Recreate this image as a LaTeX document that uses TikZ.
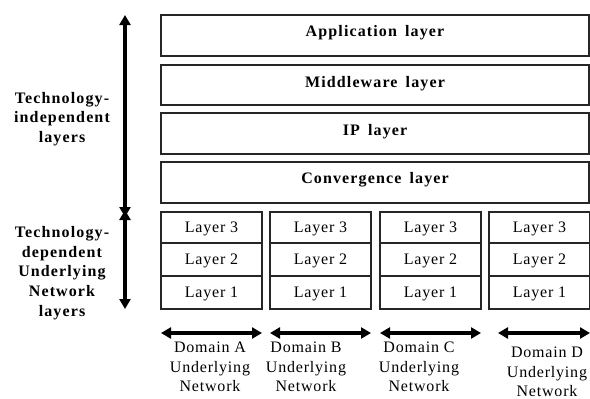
\documentclass[tikz,border=0pt]{standalone}
\usepackage{fontspec}
\setmainfont{Liberation Serif}
\newfontfamily\regf{Liberation Serif}[LetterSpace=5]
\newfontfamily\boldf{Liberation Serif}[LetterSpace=7,WordSpace=1.6]
\usetikzlibrary{arrows.meta,calc}
\begin{document}
\begin{tikzpicture}[x=1pt,y=-1pt,
  box/.style={draw=black!85,line width=1.3pt,anchor=north west,inner sep=0pt,outer sep=0pt},
  big/.style={box,minimum width=428pt},
  cell/.style={box,minimum width=101pt},
  btxt/.style={font=\boldf\bfseries\fontsize{16}{19.5}\selectfont,anchor=base,inner sep=0pt},
  rtxt/.style={font=\regf\fontsize{16}{19.5}\selectfont,anchor=base,inner sep=0pt},
  side/.style={font=\boldf\bfseries\fontsize{16}{19.6}\selectfont,align=center,inner sep=0pt},
  dom/.style={font=\regf\fontsize{16}{19.5}\selectfont,align=center,inner sep=0pt},
  arr/.style={line width=3.5pt,{Triangle[length=10pt,width=11pt]}-{Triangle[length=10pt,width=11pt]}}
]
\useasboundingbox (0,0) rectangle (590,399);
% big layers
\node[big,minimum height=41pt] (app) at (161,15) {};
\node[big,minimum height=40pt] (mid) at (161,65) {};
\node[big,minimum height=41pt] (ip) at (161,113) {};
\node[big,minimum height=41pt] (conv) at (161,162) {};
\node[btxt] (tapp) at ($(app.north)+(0,21.5)$) {Application layer};
\node[btxt] (tmid) at ($(mid.north)+(0,22)$) {Middleware layer};
\node[btxt] (tip) at ($(ip.north)+(0,22)$) {IP layer};
\node[btxt] (tconv) at ($(conv.north)+(0,21.5)$) {Convergence layer};
% domain cells
\foreach \d/\x in {A/161,B/270,C/380,D/489}{
  \node[cell,minimum height=31pt] (\d3) at (\x,212) {};
  \node[cell,minimum height=33pt] (\d2) at (\x,243) {};
  \node[cell,minimum height=33pt] (\d1) at (\x,276) {};
  \node[rtxt] (t\d3) at ($(\d3.north)+(0,20.5)$) {Layer 3};
  \node[rtxt] (t\d2) at ($(\d2.north)+(0,21.5)$) {Layer 2};
  \node[rtxt] (t\d1) at ($(\d1.north)+(0,21.5)$) {Layer 1};
}
% vertical arrows
\coordinate (vtop) at (125,15);
\coordinate (vmidA) at (125,217);
\coordinate (vmidB) at (125,210);
\coordinate (vbot) at (125,309);
\draw[arr] (vtop) -- (vmidA);
\draw[arr] (vmidB) -- (vbot);
\node[side] (indep) at (62,119) {Technology-\\independent\\layers};
\node[side] (dep) at (62,273) {Technology-\\dependent\\Underlying\\Network\\layers};
% horizontal arrows
\coordinate (hA1) at (161,333); \coordinate (hA2) at (262,333);
\coordinate (hB1) at (270,333); \coordinate (hB2) at (371,333);
\coordinate (hC1) at (380,333); \coordinate (hC2) at (481,333);
\coordinate (hD1) at (498,333); \coordinate (hD2) at (590,333);
\draw[arr] (hA1) -- (hA2);
\draw[arr] (hB1) -- (hB2);
\draw[arr] (hC1) -- (hC2);
\draw[arr] (hD1) -- (hD2);
\node[dom] (dA) at (210,367) {Domain A\\Underlying\\Network};
\node[dom] (dB) at (306,367) {Domain B\\Underlying\\Network};
\node[dom] (dC) at (419,367) {Domain C\\Underlying\\Network};
\node[dom] (dD) at (547,372) {Domain D\\Underlying\\Network};
\end{tikzpicture}
\end{document}
